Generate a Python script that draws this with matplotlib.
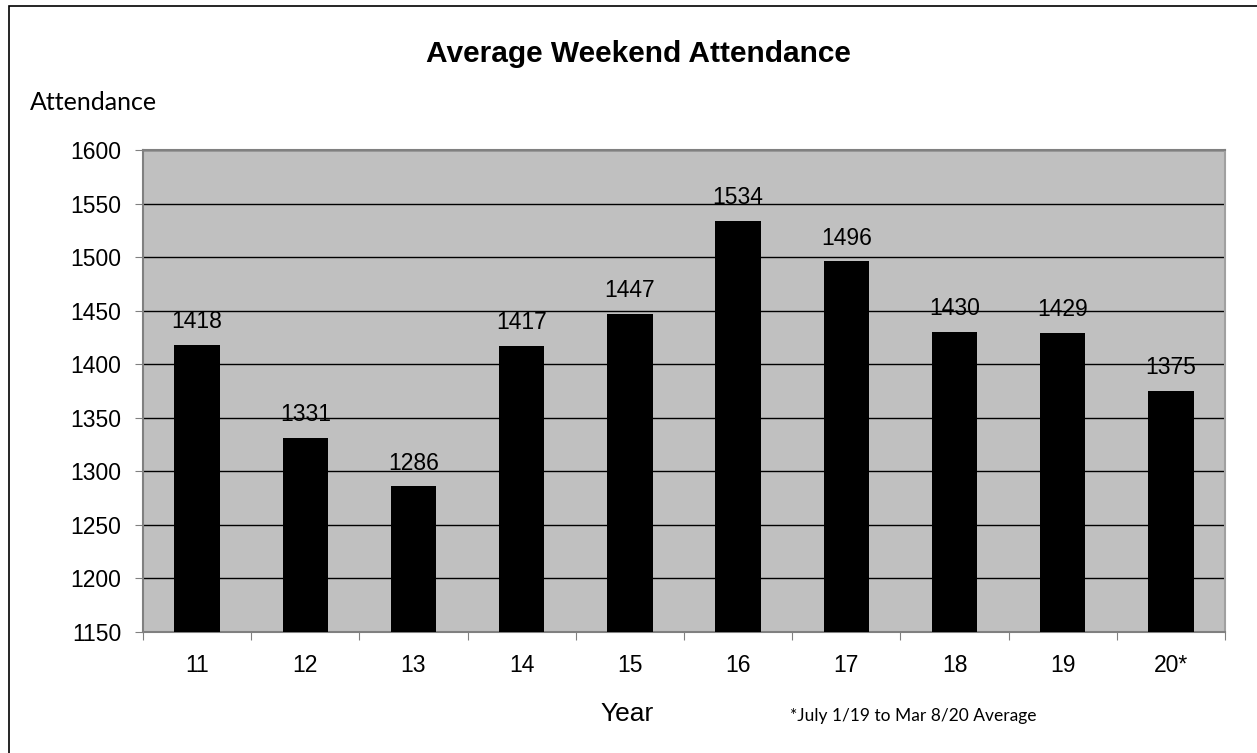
import numpy as np
import matplotlib.pyplot as plt
from matplotlib.patches import Rectangle

years = ["11", "12", "13", "14", "15", "16", "17", "18", "19", "20*"]
attendance = [1418, 1331, 1286, 1417, 1447, 1534, 1496, 1430, 1429, 1375]

plt.rcParams['font.family'] = ['Liberation Sans', 'DejaVu Sans']

fig = plt.figure(figsize=(12.57, 7.53), dpi=100)
ax = fig.add_axes([143 / 1257, 1 - 632 / 753, (1225 - 143) / 1257, (632 - 150) / 753])

x = np.arange(len(years))
ax.set_facecolor('#C0C0C0')
ax.set_ylim(1150, 1600)
ax.set_xlim(-0.5, len(years) - 0.5)
ax.set_yticks(np.arange(1150, 1601, 50))
ax.yaxis.grid(True, color='black', linewidth=1)
ax.set_axisbelow(True)

bars = ax.bar(x, attendance, width=0.42, color='black', zorder=3)
for xi, v in zip(x, attendance):
    ax.text(xi, v + 11, str(v), ha='center', va='bottom', fontsize=16.5, zorder=4)

# category labels between boundary ticks
ax.set_xticks(np.arange(-0.5, len(years), 1))
ax.set_xticklabels([])
ax.set_xticks(x, minor=True)
ax.set_xticklabels(years, minor=True, fontsize=16.5)
ax.tick_params(axis='x', which='minor', length=0, pad=16)
ax.tick_params(axis='x', which='major', length=5.8, color='#808080')
ax.tick_params(axis='y', labelsize=16.5, length=5.8, color='#808080', pad=10)

for s in ['left', 'bottom', 'top']:
    ax.spines[s].set_color('#808080')
    ax.spines[s].set_linewidth(1.5)
ax.spines['right'].set_color('#A0A0A0')
ax.spines['right'].set_linewidth(1.5)

fig.text(638 / 1257, 1 - 62 / 753, "Average Weekend Attendance", ha='center', va='baseline',
         fontsize=21.5, fontweight='bold')
fig.text(30 / 1257, 1 - 110 / 753, "Attendance", ha='left', va='baseline',
         fontsize=18, family=['Lato', 'DejaVu Sans'])
fig.text(627 / 1257, 1 - 721 / 753, "Year", ha='center', va='baseline', fontsize=19)
fig.text(790 / 1257, 1 - 721 / 753, "*July 1/19 to Mar 8/20 Average", ha='left', va='baseline',
         fontsize=12.5, family=['Lato', 'DejaVu Sans'])

# chart frame: only the left and top edges fall inside the image
fig.patches.append(Rectangle((9 / 1257, -0.1), 1.2, 1.1 - 6 / 753,
                             transform=fig.transFigure, fill=False, edgecolor='black',
                             linewidth=1.2))

plt.savefig("out.png", dpi=100)
